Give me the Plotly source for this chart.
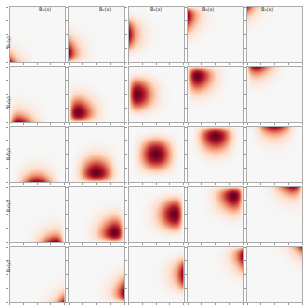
import numpy as np
import plotly.graph_objects as go
from math import comb

degree = 6
basis_index = [0, 1, 3, 5, 6]
col_titles = ["B₀(x)", "B₁(x)", "B₂(x)", "B₃(x)", "B₄(x)"]
row_titles = ["B₀(y)", "B₁(y)", "B₂(y)", "B₃(y)", "B₄(y)"]
tick_vals = [0, 0.25, 0.5, 0.75, 1]
n_grid = 60

grid = np.linspace(0, 1, n_grid)

def bern(i, t):
    return comb(degree, i) * t**i * (1 - t)**(degree - i)

colorscale = [[0.0, "#f7f7f7"], [0.2, "#fddbc7"], [0.4, "#f4a582"],
              [0.6, "#d6604d"], [0.8, "#b2182b"], [1.0, "#67001f"]]

W = H = 305
col_left = [9.5, 69, 128.5, 188, 247]
row_top = [7, 67, 127, 187, 247]
size = 55

fig = go.Figure()
layout = dict(width=W, height=H, margin=dict(l=0, r=0, t=0, b=0),
              paper_bgcolor="white", plot_bgcolor="white", showlegend=False)
annotations = []
k = 0
for r in range(5):
    for c in range(5):
        k += 1
        xa = "x" if k == 1 else f"x{k}"
        ya = "y" if k == 1 else f"y{k}"
        z = np.outer(bern(basis_index[c], grid), bern(basis_index[r], grid))
        fig.add_trace(go.Heatmap(z=z, x=grid, y=grid, colorscale=colorscale,
                                 zmin=0, zmax=z.max(), showscale=False,
                                 hoverinfo="skip", xaxis=xa, yaxis=ya))
        x0 = col_left[c] / W
        x1 = (col_left[c] + size) / W
        y1 = 1 - row_top[r] / H
        y0 = 1 - (row_top[r] + size) / H
        axstyle = dict(showgrid=False, zeroline=False, showticklabels=False,
                       ticks="outside", ticklen=2, tickwidth=1, tickcolor="#999",
                       tickvals=tick_vals, range=[0, 1], showline=True,
                       linecolor="#aaa", linewidth=1.2, mirror=True)
        layout["xaxis" if k == 1 else f"xaxis{k}"] = dict(domain=[x0, x1], anchor=ya, **axstyle)
        layout["yaxis" if k == 1 else f"yaxis{k}"] = dict(domain=[y0, y1], anchor=xa, **axstyle)

for c in range(5):
    annotations.append(dict(text=col_titles[c], x=(col_left[c] + size / 2) / W, y=1 - 4.3 / H,
                            xref="paper", yref="paper", showarrow=False,
                            font=dict(size=5, color="#333", family="DejaVu Sans")))
for r in range(5):
    annotations.append(dict(text=row_titles[r], x=3.3 / W, y=1 - (row_top[r] + size / 2) / H,
                            xref="paper", yref="paper", showarrow=False, textangle=-90,
                            font=dict(size=5, color="#333", family="DejaVu Sans")))
layout["annotations"] = annotations
fig.update_layout(**layout)
fig.write_html("out.html", config={"displayModeBar": False})

with open("out.html", "r", encoding="utf-8") as f:
    html = f.read()
html = html.replace("<body>", "<body style=\"margin:0;padding:0;\">", 1)
with open("out.html", "w", encoding="utf-8") as f:
    f.write(html)
